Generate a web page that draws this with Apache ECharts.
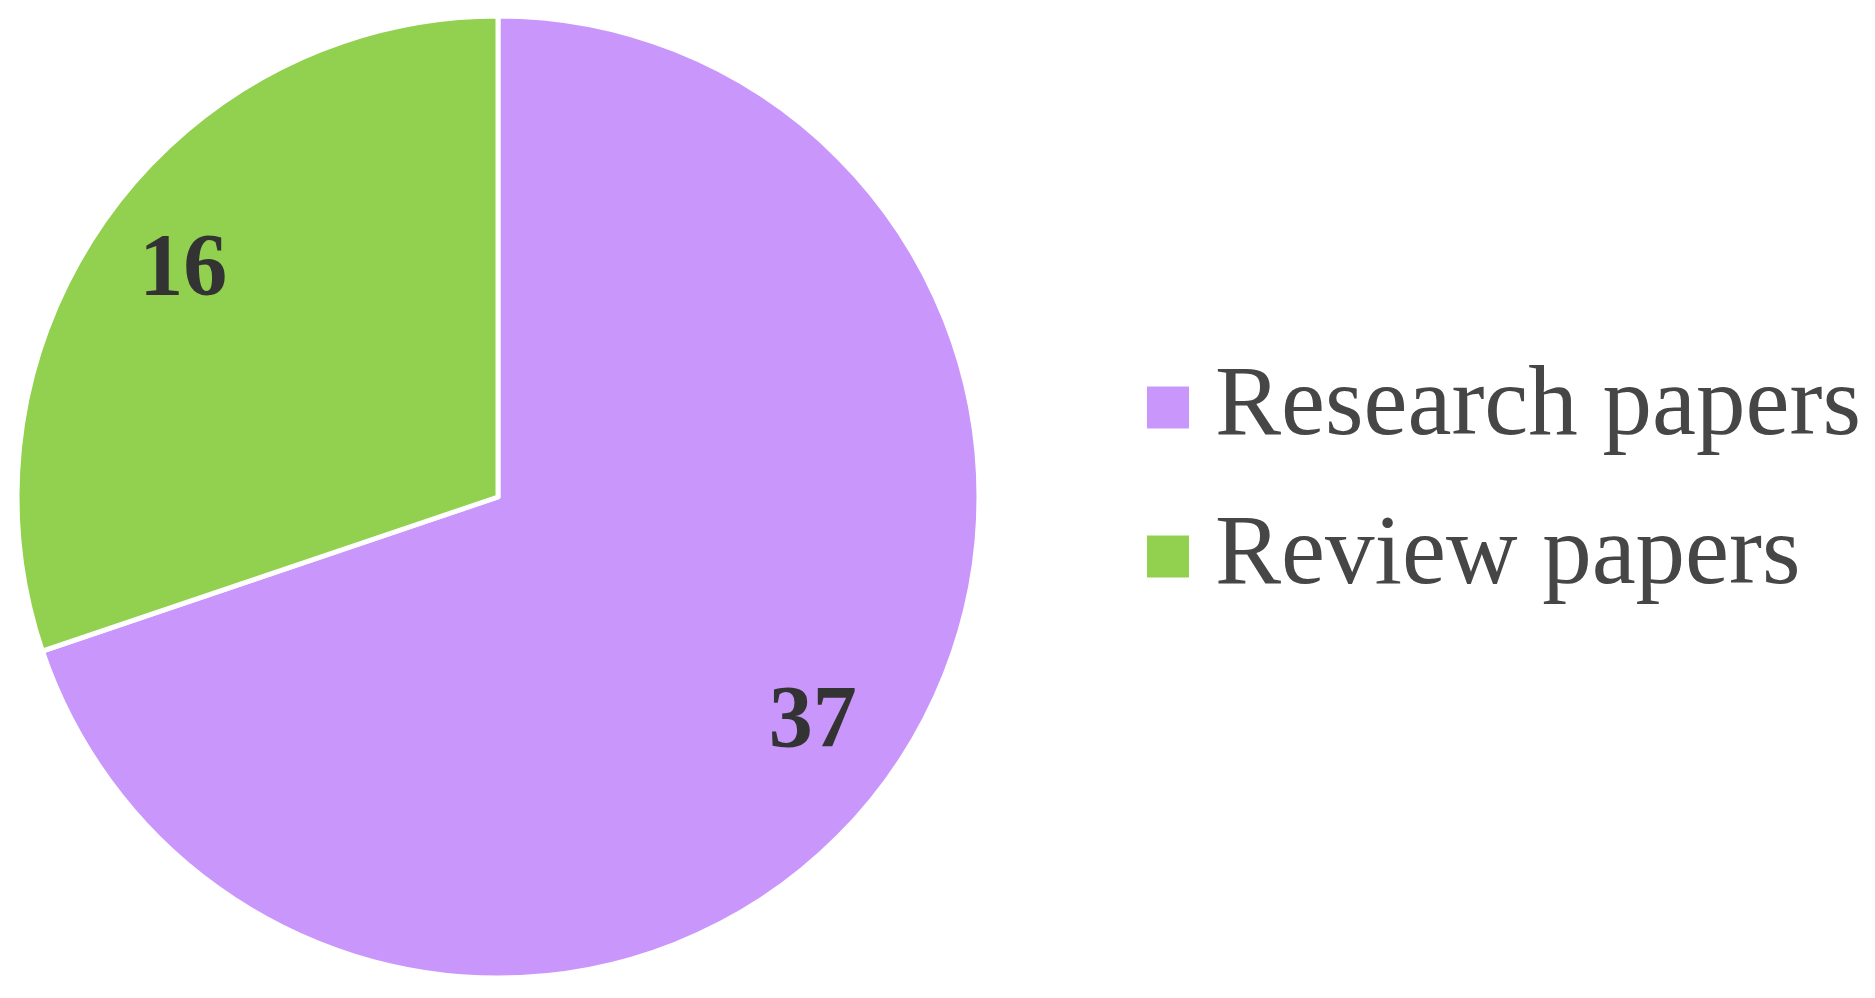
<!DOCTYPE html>
<html>
<head>
<meta charset="utf-8">
<script src="https://cdn.jsdelivr.net/npm/echarts@6/dist/echarts.min.js"></script>
<style>
  html, body { margin: 0; padding: 0; background: #fff; }
  #chart { width: 1875px; height: 998px; }
</style>
</head>
<body>
<div id="chart"></div>
<script>
const categories = ["Research papers", "Review papers"];
const counts = [37, 16];
const colors = ["#c997fb", "#92d050"];

const pieData = categories.map((name, i) => ({ name, value: counts[i] }));

const chart = echarts.init(document.getElementById("chart"));
chart.setOption({
    animation: false,
    color: colors,
    legend: {
        orient: "vertical",
        left: 1140,
        top: 353,
        icon: "rect",
        itemWidth: 44,
        itemHeight: 44,
        itemGap: 50,
        data: categories,
        textStyle: {
            fontFamily: "Liberation Serif",
            fontSize: 99,
            lineHeight: 84,
            color: "#464646",
            padding: [0, 0, 0, 20]
        }
    },
    series: [
        {
            // the pie itself
            type: "pie",
            center: [498, 497],
            radius: [0, 481],
            startAngle: 90,
            clockwise: true,
            itemStyle: { borderColor: "#fff", borderWidth: 5 },
            label: { show: false },
            labelLine: { show: false },
            data: pieData
        },
        {
            // transparent ring, only used to put the value labels further out
            type: "pie",
            center: [498, 497],
            radius: [288, 481],
            startAngle: 90,
            clockwise: true,
            silent: true,
            legendHoverLink: false,
            itemStyle: { color: "rgba(0,0,0,0)", borderWidth: 0 },
            label: {
                show: true,
                position: "inside",
                formatter: "{c}",
                fontFamily: "Liberation Serif",
                fontWeight: "bold",
                fontSize: 88,
                color: "#333"
            },
            labelLine: { show: false },
            data: pieData
        }
    ]
});
</script>
</body>
</html>
